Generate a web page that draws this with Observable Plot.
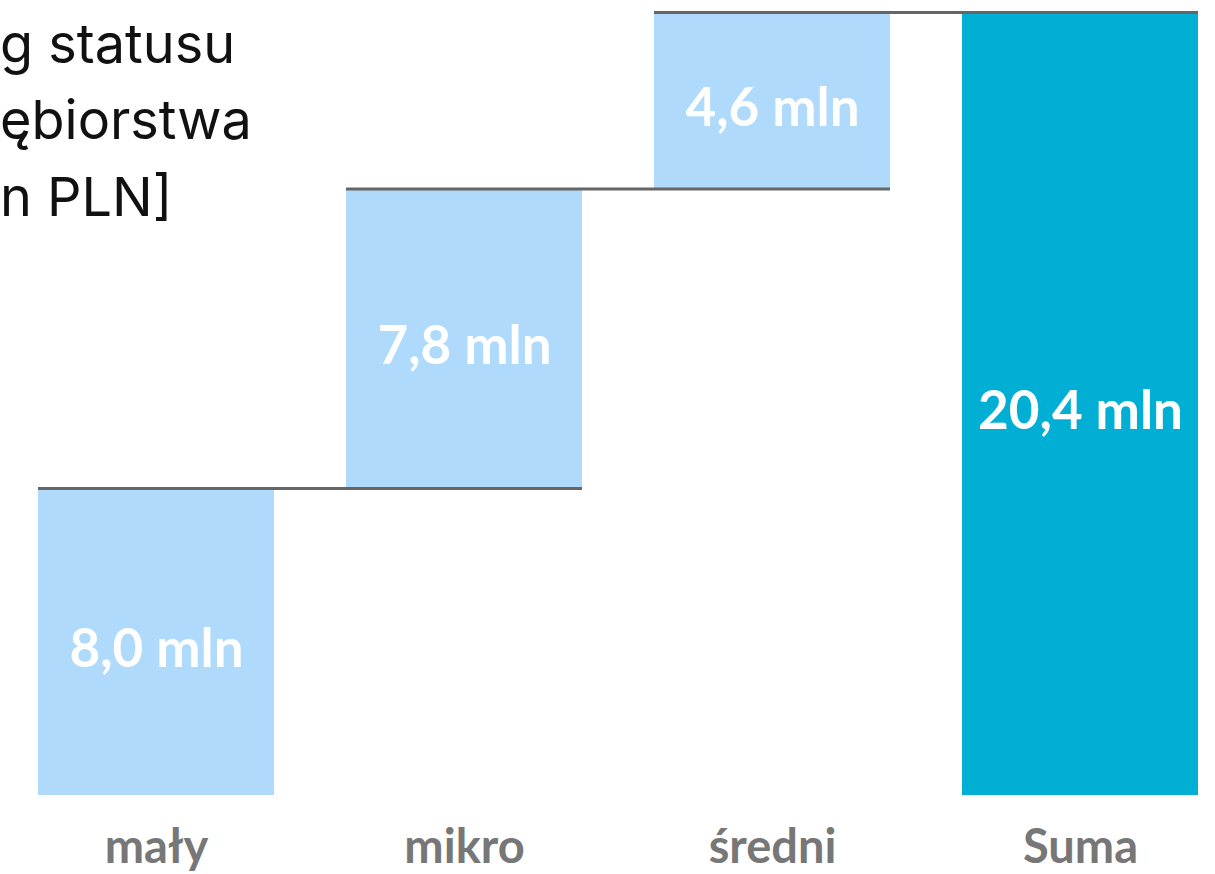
<!DOCTYPE html>
<html>
<head>
<meta charset="utf-8">
<script src="https://cdn.jsdelivr.net/npm/d3@7"></script>
<script src="https://cdn.jsdelivr.net/npm/@observablehq/plot@0.6"></script>
<style>
  html, body { margin: 0; padding: 0; background: #fff; }
  #wrap { position: relative; width: 1215px; height: 874px; overflow: hidden; background: #fff; }
  #chart { position: absolute; left: 0; top: 0; }
  .t { position: absolute; font-family: Inter, "Noto Sans", sans-serif; font-size: 54px; color: #111; white-space: nowrap; line-height: 1; }
</style>
</head>
<body>
<div id="wrap">
  <div id="chart"></div>
  <div class="t" style="left:0px; top:17px;">g statusu</div>
  <div class="t" style="left:0px; top:93px;">ębiorstwa</div>
  <div class="t" style="left:0px; top:170px;">n PLN]</div>
</div>
<script>
const categories = ["mały", "mikro", "średni", "Suma"];
const values = [8.0, 7.8, 4.6, 20.4];
const valueLabels = ["8,0 mln", "7,8 mln", "4,6 mln", "20,4 mln"];
const isTotal = [false, false, false, true];

// build waterfall table
let run = 0;
const rows = categories.map((c, i) => {
  let start, end;
  if (isTotal[i]) { start = 0; end = values[i]; }
  else { start = run; end = run + values[i]; run = end; }
  return { cat: c, start, end, mid: (start + end) / 2, label: valueLabels[i], total: isTotal[i] };
});
const connectors = rows.slice(0, -1).map((r, i) => ({ from: r.cat, to: rows[i + 1].cat, y: r.end }));

const chart = Plot.plot({
  width: 1215,
  height: 874,
  marginTop: 12,
  marginBottom: 79,
  marginLeft: 37,
  marginRight: 17,
  style: { background: "transparent", fontFamily: "Lato, sans-serif" },
  x: { domain: categories, paddingInner: 0.234, paddingOuter: 0, align: 0.5, label: null },
  y: { domain: [0, 20.4], axis: null },
  marks: [
    Plot.barY(rows, {
      x: "cat", y1: "start", y2: "end",
      fill: d => d.total ? "#00AFD3" : "#AFDAFC"
    }),
    Plot.ruleY(connectors, { x1: "from", x2: "to", y: "y", stroke: "#666666", strokeWidth: 3 }),
    Plot.text(rows, {
      x: "cat", y: "mid", text: "label", fill: "white",
      fontSize: 53, fontWeight: "bold", dy: 8, fontFamily: "Lato, sans-serif"
    }),
    Plot.axisX({
      tickSize: 0, tickPadding: 34, fontSize: 47, fontWeight: "bold",
      fill: "#777777", label: null, fontFamily: "Lato, sans-serif"
    })
  ]
});
document.getElementById("chart").appendChild(chart);
</script>
</body>
</html>
